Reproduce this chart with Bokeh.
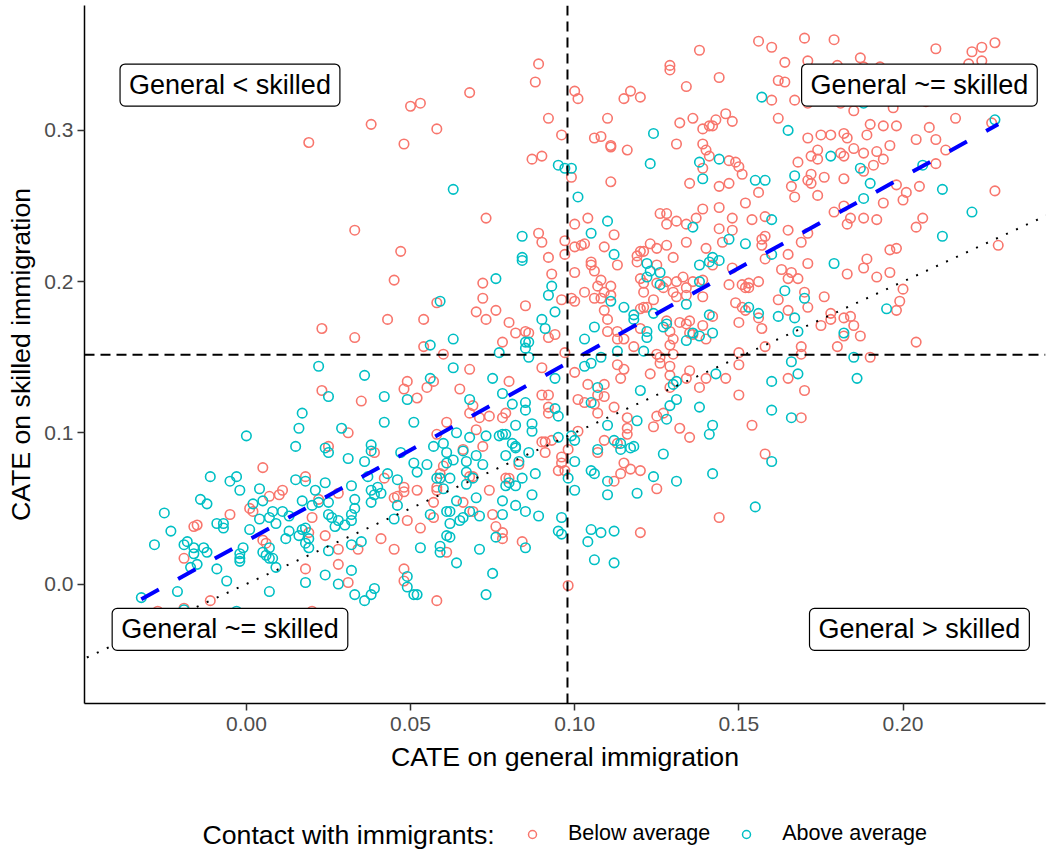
import numpy as np
from bokeh.plotting import figure
from bokeh.layouts import column
from bokeh.models import (Span, Slope, Label, Legend, LegendItem, FixedTicker,
                          NumeralTickFormatter, Range1d)
from bokeh.embed import file_html
from bokeh.resources import INLINE

# CATE estimates in thousandths: (general immigration, skilled immigration)
below_average_milli = [
    (19,292),(38,304),(50,316),(53,318),(68,325),(58,301),(48,291),(89,344),(88,332),(92,308),
    (96,297),(87,281),(90,283),(99,269),(100,326),(101,321),(115,321),(117,326),(120,322),(110,308),
    (106,295),(108,296),(111,290),(111,289),(116,287),(111,266),(129,343),(129,340),(138,353),(134,329),
    (136,308),(132,305),(139,301),(141,303),(142,303),(143,307),(131,291),(139,291),(140,287),(141,283),
    (139,275),(135,265),(139,248),(126,245),(128,245),(73,242),(104,242),(144,335),
    (156,359),(160,355),(170,361),(179,360),(210,354),(221,352),(224,355),(228,358),(224,346),(220,344),
    (164,345),(171,346),(180,343),(187,348),(188,342),(193,342),(162,333),(164,332),(160,320),(167,320),
    (171,318),(181,318),(185,313),(197,315),(207,319),(216,308),(227,305),(146,311),(148,306),(162,308),
    (171,295),(175,297),(178,297),(182,298),(183,295),(189,297),(190,304),(194,303),(198,303),(208,302),
    (204,294),(210,294),(196,290),(185,288),(188,285),(192,286),(174,287),(172,283),(181,285),(182,283),
    (168,279),(174,281),(147,280),(149,279),(150,276),(151,271),(172,271),(171,267),(172,265),(176,269),
    (182,268),(188,273),(191,277),(194,281),(210,278),(213,287),(198,264),(205,263),(201,259),(200,254),
    (194,252),(228,260),(144,263),(147,265),(156,259),(166,263),(167,256),(174,257),(152,252),(144,249),
    (182,250),(206,242),(188,242),(148,242),(158,243),
    (47,220),(45,201),(100,238),(89,232),(90,226),(92,216),(97,227),(97,218),(100,223),(102,224),
    (103,225),(109,223),(112,231),(105,213),(105,211),(106,207),(100,206),(93,205),(113,211),(108,201),
    (107,197),(109,193),(111,197),(111,191),(103,193),(106,189),(108,189),(99,189),(100,187),(96,188),
    (72,199),(72,189),(70,180),(73,175),(76,181),(85,184),(58,186),(54,175),(80,173),(82,166),
    (85,167),(86,166),(94,165),(92,163),(78,160),(60,152),(54,157),(68,142),(65,129),(49,134),
    (48,129),(52,123),(55,130),(57,134),(80,134),(90,143),(90,125),(92,125),(97,153),(100,140),
    (92,117),(101,122),(103,120),(107,125),(109,132),(109,124),(104,132),(110,175),(109,181),(110,167),
    (113,167),(113,162),(115,162),(113,145),(115,142),(114,136),(119,217),(120,220),(121,220),(123,225),
    (125,222),(128,224),(134,226),(119,213),(125,211),(130,216),(120,202),(121,199),(125,199),(128,200),
    (121,193),(124,188),(120,182),(121,183),(122,183),(127,196),(131,200),(133,203),(136,200),(139,201),
    (140,222),(144,235),(137,242),(128,238),(131,240),(134,238),(134,196),(134,191),(131,190),(130,193),
    (139,190),(128,174),(132,173),(134,172),(135,174),(139,171),(142,177),(120,169),(129,167),(130,162),
    (129,158),(135,166),(136,165),(140,162),(118,157),(125,152),(126,150),(130,152),(126,146),(129,144),
    (123,139),(129,138),(134,136),(135,141),(140,136),(138,130),(129,130),
    (154,241),(148,234),(145,226),(165,234),(158,230),(157,228),(157,224),(169,226),(171,232),(179,246),
    (184,242),(183,238),(192,241),(204,236),(165,218),(158,215),(171,212),(163,208),(166,206),(165,202),
    (168,202),(156,200),(147,198),(151,198),(153,199),(152,196),(153,196),(142,211),(148,209),(183,205),
    (188,209),(189,215),(192,203),(196,221),(198,222),(196,206),(200,195),(199,187),(198,181),(229,224),
    (170,193),(176,190),(162,188),(149,186),(151,183),(152,181),(165,181),(171,183),(156,176),(157,169),
    (150,173),(178,179),(178,175),(175,171),(182,176),(184,177),(185,171),(187,164),(182,164),(180,157),
    (169,157),(169,152),(158,157),(150,153),(150,145),(146,136),(165,136),(170,128),(150,125),(190,150),
    (204,160),
    (33,234),(43,175),(23,169),(33,163),(23,128),(35,121),
    (31,100),(25,91),(39,87),(5,77),(18,71),(11,62),(10,59),(7,58),(1,50),(2,48),
    (-5,46),(-16,38),(-15,39),(-19,17),(5,29),(6,27),(22,56),(20,44),(28,60),(24,32),
    (19,34),(28,23),(28,13),(34,23),(18,10),(31,1),(41,30),(45,23),(42,70),(45,57),
    (48,61),(48,10),(48,2),(-11,-11),(-19,-16),(-27,-18),(20,-18),
    (61,107),(58,99),(69,118),(68,113),(71,110),(74,111),(78,110),(79,113),(70,102),(72,91),
    (66,89),(60,78),(59,73),(59,70),(58,64),(58,62),(48,64),(52,62),(46,58),(57,54),
    (57,44),(49,42),(53,37),(66,54),(69,48),(68,71),(69,71),(74,62),(80,70),(79,70),
    (83,79),(75,46),(76,38),(78,34),(78,30),(84,28),(61,21),(58,-11),(98,-1),(120,34),
    (144,44),(92,113),(90,94),(91,94),(93,95),(91,87),(96,84),(96,80),(95,75),(97,75),
    (98,89),(101,101),(106,119),(107,113),(112,117),(116,110),(116,103),(116,99),(109,95),(107,87),
    (113,93),(115,80),(114,73),(117,76),(120,75),(112,68),(125,63),(124,104),(125,111),(127,113),
    (132,103),(135,97),(169,110),(154,105),(158,86),
]

above_average_milli = [
    (63,261),(95,277),(97,275),(99,275),(101,256),(124,298),(123,278),(138,279),(139,268),(144,281),(110,240),
    (157,322),(165,300),(178,283),(187,275),(155,267),(158,267),(167,270),(190,265),(188,255),(206,277),
    (212,261),(221,246),(228,307),(188,318),
    (84,230),(84,216),(84,214),(105,232),(112,218),(76,202),(59,187),(93,197),(92,191),(94,180),
    (90,175),(91,169),(63,162),(56,158),(77,153),(85,160),(86,160),(85,156),(86,150),(63,143),
    (75,136),(56,136),(49,122),(68,122),(78,126),(81,119),(85,120),(94,136),(103,162),(106,170),
    (103,144),(105,146),(108,150),(107,130),(105,120),(111,187),(115,183),(118,178),(118,175),(122,167),
    (122,163),(113,154),(121,154),(122,212),(123,207),(122,203),(126,206),(126,198),(124,179),(127,170),
    (128,172),(134,185),(134,161),(136,166),(138,164),(142,166),(141,178),(138,211),(138,200),(141,213),
    (142,216),(136,236),(130,132),(131,134),(120,128),(129,118),(131,122),(138,117),
    (160,241),(147,228),(152,225),(144,214),(160,218),(179,212),(212,230),(164,194),(170,189),(153,183),
    (156,179),(162,177),(167,176),(168,167),(182,166),(195,182),(166,147),(168,139),(160,134),(185,150),
    (186,136),(143,139),(160,115),
    (22,144),(36,138),(25,124),(42,124),
    (17,113),(16,103),(15,91),(0,98),(29,103),(42,107),(24,90),(25,87),(31,83),(36,81),
    (38,92),(38,88),(-11,71),(-3,71),(-5,68),(-2,62),(4,63),(15,69),(18,68),(21,62),
    (24,67),(32,65),(37,71),(43,73),(46,69),(40,64),(38,62),(41,60),(39,59),(38,54),
    (46,52),(-14,56),(-12,53),(-25,47),(-23,35),(-28,26),(-19,26),(-18,28),(-16,24),(-16,20),
    (-13,24),(-12,21),(-9,40),(-7,40),(-7,37),(-1,24),(-2,17),(-2,15),(-2,20),(1,36),
    (4,43),(2,53),(5,55),(8,48),(7,44),(9,40),(11,48),(13,45),(17,55),(20,52),
    (22,54),(25,54),(25,46),(26,44),(28,42),(30,39),(32,42),(32,46),(33,56),(33,50),
    (45,43),(13,35),(12,30),(16,32),(17,36),(18,37),(19,30),(18,27),(19,24),(27,38),
    (5,21),(6,19),(7,17),(8,17),(7,24),(9,11),(-9,10),(-15,13),(-17,11),(-6,2),
    (-21,-5),(-32,-9),(7,-5),(18,1),(24,6),(28,0),(32,9),(33,-7),(36,-11),(38,-7),
    (39,-3),(25,22),(32,26),(35,28),(-19,-17),(-3,-18),
    (51,107),(47,87),(51,80),(52,74),(55,79),(57,91),(60,93),(61,87),(61,80),(63,82),
    (58,70),(59,70),(62,70),(60,63),(64,100),(66,88),(67,81),(70,85),(72,79),(73,98),
    (67,74),(69,70),(67,66),(70,57),(64,55),(61,48),(62,48),(56,46),(62,40),(66,44),
    (65,42),(71,45),(68,48),(61,32),(62,31),(59,25),(59,21),(53,24),(64,14),(71,23),
    (75,7),(73,-7),(49,5),(49,-2),(51,-7),(52,-7),(68,97),(77,98),(78,99),(79,99),
    (82,105),(81,93),(82,91),(82,90),(79,85),(83,81),(86,87),(87,101),(87,106),(85,115),
    (88,73),(84,70),(80,67),(82,65),(79,65),(78,55),(82,52),(85,48),(87,59),(89,45),
    (78,46),(76,31),(85,24),(95,35),(96,44),(96,33),(94,116),(95,111),(95,97),(99,98),
    (100,95),(98,70),(100,81),(100,62),(105,36),(104,28),(108,34),(112,35),(106,16),(112,14),
    (105,75),(106,73),(110,105),(110,68),(110,59),(112,95),(114,93),(114,89),(117,90),(118,91),
    (119,108),(119,60),(124,71),(127,86),(128,109),(131,68),(141,99),(142,105),(142,73),(107,89),
    (166,110),(160,81),(155,51),
]

mean_general = 0.0978      # vertical dashed reference
mean_skilled = 0.1517      # horizontal dashed reference
fit_intercept = 0.0284     # linear fit of skilled on general
fit_slope = 1.204

x_ticks = [0.0, 0.05, 0.10, 0.15, 0.20]
y_ticks = [0.0, 0.1, 0.2, 0.3]

quadrant_text = ["General < skilled", "General ~= skilled", "General ~= skilled", "General > skilled"]
quadrant_x = [-0.005, 0.205, -0.005, 0.205]
quadrant_y = [0.330, 0.330, -0.030, -0.030]

series_names = ["Below average", "Above average"]
legend_title = "Contact with immigrants:"

FONT = "Liberation Sans"
RED = "#F8766D"
TEAL = "#00BFC4"

bx = np.array([p[0] for p in below_average_milli]) / 1000.0
by = np.array([p[1] for p in below_average_milli]) / 1000.0
ax_ = np.array([p[0] for p in above_average_milli]) / 1000.0
ay = np.array([p[1] for p in above_average_milli]) / 1000.0

# ---------------- main panel ----------------
p = figure(width=1049, height=780, output_backend="svg", toolbar_location=None,
           x_range=Range1d(-0.04931, 0.24340), y_range=Range1d(-0.07903, 0.38261),
           min_border_left=84, min_border_right=4, min_border_top=5, min_border_bottom=77)
p.outline_line_color = None
p.xgrid.grid_line_color = None
p.ygrid.grid_line_color = None
p.background_fill_color = "white"
p.border_fill_color = "white"

r_below = p.scatter(bx, by, marker="circle", size=9.5, fill_color=None,
                    line_color=RED, line_width=1.6)
r_above = p.scatter(ax_, ay, marker="circle", size=9.5, fill_color=None,
                    line_color=TEAL, line_width=1.6)

p.add_layout(Span(location=mean_general, dimension="height", line_color="black",
                  line_dash="10 6", line_width=2))
p.add_layout(Span(location=mean_skilled, dimension="width", line_color="black",
                  line_dash="10 6", line_width=2))
p.add_layout(Slope(gradient=1, y_intercept=0, line_color="black",
                   line_dash="2 9", line_width=2))

all_x = np.concatenate([bx, ax_])
fit_x = [all_x.min(), all_x.max()]
fit_y = [fit_intercept + fit_slope * v for v in fit_x]
p.line(fit_x, fit_y, line_color="#0000FF", line_width=4, line_dash="20 22")

for t, lx, ly in zip(quadrant_text, quadrant_x, quadrant_y):
    p.add_layout(Label(x=lx, y=ly, text=t, text_align="center", text_baseline="middle",
                       text_font=FONT, text_font_size="27px", text_color="black",
                       background_fill_color="white", border_line_color="black",
                       border_line_width=1.2, border_radius=5, padding=(9, 6)))

xa = p.xaxis[0]
ya = p.yaxis[0]
xa.ticker = FixedTicker(ticks=x_ticks)
ya.ticker = FixedTicker(ticks=y_ticks)
xa.formatter = NumeralTickFormatter(format="0.00")
ya.formatter = NumeralTickFormatter(format="0.0")
xa.axis_label = "CATE on general immigration"
ya.axis_label = "CATE on skilled immigration"
for a in (xa, ya):
    a.axis_label_text_font = FONT
    a.axis_label_text_font_size = "26.7px"
    a.axis_label_text_font_style = "normal"
    a.axis_label_text_color = "black"
    a.major_label_text_font = FONT
    a.major_label_text_font_size = "21px"
    a.major_label_text_color = "#4D4D4D"
    a.major_tick_out = 7
    a.major_tick_in = 0
    a.minor_tick_out = 0
    a.minor_tick_in = 0
    a.axis_line_color = "black"
    a.axis_line_width = 1.5
    a.major_tick_line_color = "#333333"
    a.major_tick_line_width = 1.5
xa.major_label_standoff = 6
xa.axis_label_standoff = 8
ya.major_label_standoff = 4
ya.axis_label_standoff = 5

# ---------------- legend strip (frame aligned with main panel: x 84..1045) ----------------
leg = figure(width=1049, height=70, output_backend="svg", toolbar_location=None,
             x_range=Range1d(84, 1045), y_range=Range1d(0, 70),
             x_axis_type=None, y_axis_type=None,
             min_border_left=84, min_border_right=4, min_border_top=0, min_border_bottom=0)
leg.outline_line_color = None
leg.background_fill_color = "white"
leg.border_fill_color = "white"

# key renderers (their single point lies outside the strip's range; only the legend key shows)
k_below = leg.scatter([-1000], [-1000], marker="circle", size=9, fill_color=None,
                      line_color=RED, line_width=1.5)
k_above = leg.scatter([-1000], [-1000], marker="circle", size=9, fill_color=None,
                      line_color=TEAL, line_width=1.5)

leg.add_layout(Label(x=202, y=16, text=legend_title, text_align="left",
                     text_baseline="middle", text_font=FONT, text_font_size="26.7px",
                     text_color="black"))

legend = Legend(
    items=[LegendItem(label=series_names[0], renderers=[k_below]),
           LegendItem(label=series_names[1], renderers=[k_above])],
    orientation="horizontal", location=(438, 4),
    border_line_color=None, background_fill_alpha=0,
    padding=0, margin=0, spacing=26, label_standoff=26,
    glyph_width=20, glyph_height=20,
    label_text_font=FONT, label_text_font_size="21.5px", label_text_color="black",
)
leg.add_layout(legend)

layout = column(p, leg, spacing=0)
open("out.html", "w").write(file_html(layout, INLINE))
